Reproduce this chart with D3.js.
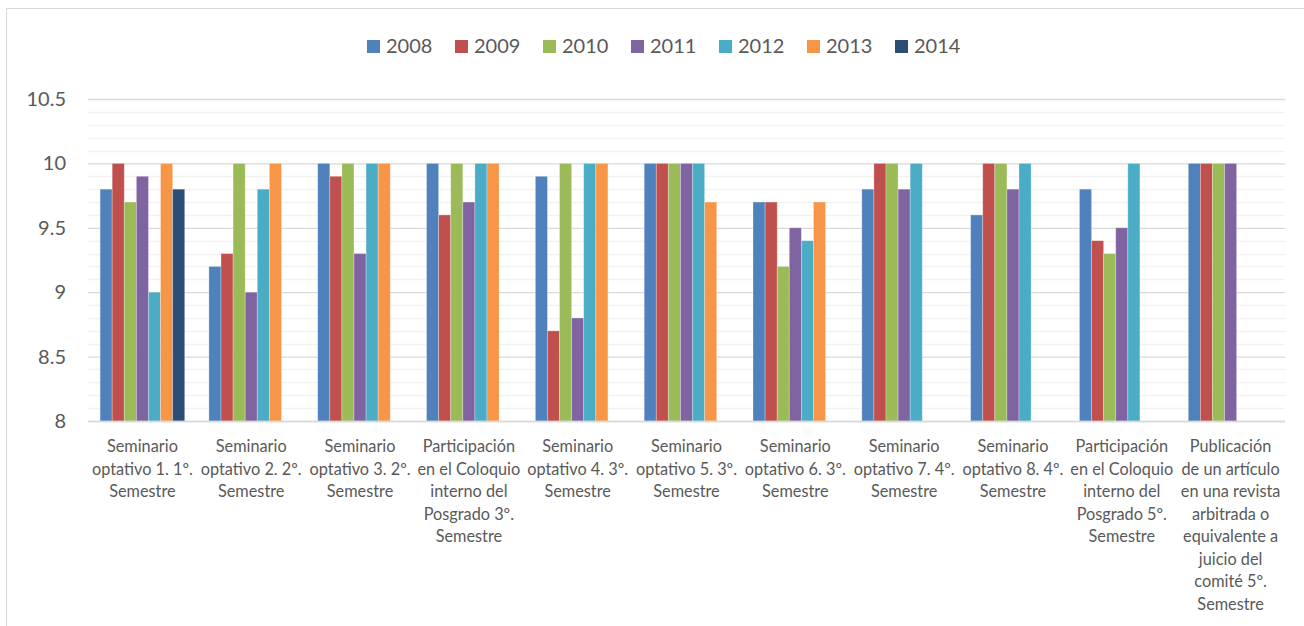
<!DOCTYPE html>
<html>
<head>
<meta charset="utf-8">
<script src="https://cdn.jsdelivr.net/npm/d3@7"></script>
<style>
  body { margin: 0; background: #fff; }
  svg text { font-family: Lato, "Open Sans", sans-serif; fill: #595959; }
</style>
</head>
<body>
<div class="chart-container"></div>
<script>
var years = ["2008", "2009", "2010", "2011", "2012", "2013", "2014"];
var colors = ["#4f81bd", "#c0504d", "#9bbb59", "#8064a2", "#4bacc6", "#f79646", "#2c4d75"];

// category labels, already broken into lines like the original
var categories = [
    ["Seminario", "optativo 1. 1º.", "Semestre"],
    ["Seminario", "optativo 2. 2º.", "Semestre"],
    ["Seminario", "optativo 3. 2º.", "Semestre"],
    ["Participación", "en el Coloquio", "interno del", "Posgrado 3º.", "Semestre"],
    ["Seminario", "optativo 4. 3º.", "Semestre"],
    ["Seminario", "optativo 5. 3º.", "Semestre"],
    ["Seminario", "optativo 6. 3º.", "Semestre"],
    ["Seminario", "optativo 7. 4º.", "Semestre"],
    ["Seminario", "optativo 8. 4º.", "Semestre"],
    ["Participación", "en el Coloquio", "interno del", "Posgrado 5º.", "Semestre"],
    ["Publicación", "de un artículo", "en una revista", "arbitrada o", "equivalente a", "juicio del", "comité 5º.", "Semestre"]
];

// one array per year, one value per category (null = no bar)
var v2008 = [9.8, 9.2, 10, 10, 9.9, 10, 9.7, 9.8, 9.6, 9.8, 10];
var v2009 = [10, 9.3, 9.9, 9.6, 8.7, 10, 9.7, 10, 10, 9.4, 10];
var v2010 = [9.7, 10, 10, 10, 10, 10, 9.2, 10, 10, 9.3, 10];
var v2011 = [9.9, 9.0, 9.3, 9.7, 8.8, 10, 9.5, 9.8, 9.8, 9.5, 10];
var v2012 = [9.0, 9.8, 10, 10, 10, 10, 9.4, 10, 10, 10, null];
var v2013 = [10, 10, 10, 10, 10, 9.7, 9.7, null, null, null, null];
var v2014 = [9.8, null, null, null, null, null, null, null, null, null, null];

var yTicks = [8, 8.5, 9, 9.5, 10, 10.5];

var series = [v2008, v2009, v2010, v2011, v2012, v2013, v2014];

var width = 1304, height = 626;
var margin = {top: 99, left: 88, right: 19, bottom: 205};
var plotW = width - margin.left - margin.right,
    plotH = height - margin.top - margin.bottom;

var svg = d3.select(".chart-container").append("svg")
    .attr("width", width)
    .attr("height", height);

// chart border
svg.append("rect")
    .attr("x", 6.5).attr("y", 8.5)
    .attr("width", 1320).attr("height", 640)
    .attr("fill", "none")
    .attr("stroke", "#d9d9d9");

var g = svg.append("g")
    .attr("transform", "translate(" + margin.left + "," + margin.top + ")");

var y = d3.scaleLinear().domain([8, 10.5]).range([plotH, 0]);

var x0 = d3.scaleBand()
    .domain(d3.range(categories.length))
    .range([0, plotW])
    .padding(0);

// gap width 200% of a bar
var bw = x0.bandwidth() / (years.length + 2);
var x1 = d3.scaleBand()
    .domain(years)
    .range([bw, x0.bandwidth() - bw])
    .padding(0);

// minor gridlines
var minor = d3.range(8.1, 10.5, 0.1).filter(function (v) {
    return Math.abs(v * 2 - Math.round(v * 2)) > 0.01;
});
g.append("g").selectAll("line")
    .data(minor)
    .enter().append("line")
    .attr("x1", 0).attr("x2", plotW)
    .attr("y1", function (d) { return Math.round(y(d)) + 0.5; })
    .attr("y2", function (d) { return Math.round(y(d)) + 0.5; })
    .attr("stroke", "#f2f2f2")
    .attr("stroke-width", 1.3);

// major gridlines + y labels
var yAxis = d3.axisLeft(y)
    .tickValues(yTicks)
    .tickSize(-plotW)
    .tickPadding(22)
    .tickFormat(function (d) { return String(d); });

g.append("g")
    .attr("class", "y axis")
    .call(yAxis)
    .call(function (a) {
        a.select(".domain").remove();
        a.selectAll("line").attr("stroke", "#d9d9d9").attr("stroke-width", 1.3);
        a.selectAll("text")
            .attr("font-size", 20)
            .attr("fill", "#595959")
            .style("font-family", "Lato, sans-serif");
    });

// bars
var groups = g.selectAll(".cat")
    .data(categories)
    .enter().append("g")
    .attr("class", "cat")
    .attr("transform", function (d, i) { return "translate(" + x0(i) + ",0)"; });

groups.selectAll("rect")
    .data(function (d, i) {
        return years.map(function (yr, k) {
            return {year: yr, value: series[k][i], color: colors[k]};
        }).filter(function (b) { return b.value != null; });
    })
    .enter().append("rect")
    .attr("x", function (d) { return x1(d.year); })
    .attr("width", x1.bandwidth())
    .attr("y", function (d) { return y(d.value); })
    .attr("height", function (d) { return plotH - y(d.value); })
    .attr("fill", function (d) { return d.color; })
    .attr("stroke", "#ffffff")
    .attr("stroke-opacity", 0.35)
    .attr("stroke-width", 0.8);

// x axis line
g.append("line")
    .attr("x1", 0).attr("x2", plotW)
    .attr("y1", plotH + 0.5).attr("y2", plotH + 0.5)
    .attr("stroke", "#d9d9d9")
    .attr("stroke-width", 1.3);

// category labels
groups.append("text")
    .attr("text-anchor", "middle")
    .attr("font-size", 16.3)
    .selectAll("tspan")
    .data(function (d) { return d; })
    .enter().append("tspan")
    .attr("x", x0.bandwidth() / 2)
    .attr("y", function (d, i) { return plotH + 31 + i * 22.5; })
    .text(function (d) { return d; });

// legend
var legend = svg.append("g").attr("class", "legend");
var legX = d3.scaleBand().domain(years).range([367, 983]);
var items = legend.selectAll("g")
    .data(years)
    .enter().append("g")
    .attr("transform", function (d) { return "translate(" + legX(d) + ",40)"; });
items.append("rect")
    .attr("width", 13).attr("height", 13)
    .attr("fill", function (d, i) { return colors[i]; });
items.append("text")
    .attr("x", 19)
    .attr("y", 13)
    .attr("font-size", 20)
    .text(function (d) { return d; });
</script>
</body>
</html>
